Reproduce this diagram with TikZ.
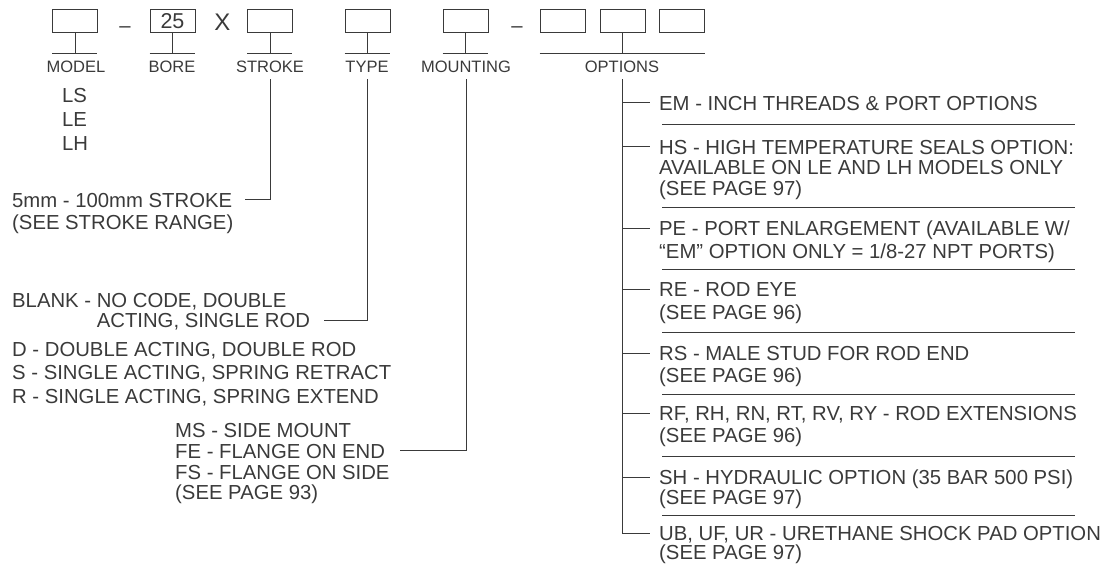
\documentclass[tikz,border=0pt]{standalone}
\usepackage{fontspec}
\setmainfont{Liberation Sans}
\usetikzlibrary{positioning, calc}
\definecolor{ink}{HTML}{3A3A3A}
\tikzset{
  box/.style={draw=ink, line width=1pt, minimum width=45pt, minimum height=23pt,
              inner sep=0pt, text=ink, font=\fontsize{21.5}{22}\selectfont},
  lbl/.style={text=ink, font=\fontsize{16.5}{17}\selectfont, inner xsep=0pt,
              inner ysep=6pt, text height=12pt, text depth=0pt},
  txt/.style={text=ink, font=\fontsize{20.3}{21}\selectfont, anchor=west,
              inner sep=0pt, text height=14.5pt, text depth=0pt},
  nxt/.style={below=#1, anchor=north west},
  ln/.style={draw=ink, line width=1pt},
}

\begin{document}
\begin{tikzpicture}[x=1pt, y=-1pt]
\useasboundingbox (0,0) rectangle (1120,567);

\node[box] (model)  at (75,21.5)    {};
\node[box] (bore)   at (172.5,21.5) {25};
\node[box] (stroke) at (270,21.5)   {};
\node[box] (type)   at (367.5,21.5) {};
\node[box] (mount)  at (465.5,21.5) {};
\node[box] (optA)   at (562.5,21.5) {};
\node[box] (optB)   at (622.5,21.5) {};
\node[box] (optC)   at (681.5,21.5) {};

\node[txt, anchor=center] (dashA) at (125,25) {--};
\node[txt, anchor=center, font=\fontsize{24}{24}\selectfont] (times) at (222.5,23.5) {X};
\node[txt, anchor=center] (dashB) at (517,25) {--};

\draw[ln] (model.south)  -- ++(0,20) (model.south west)  ++(0,20) -- ++(45,0);
\draw[ln] (bore.south)   -- ++(0,20) (bore.south west)   ++(0,20) -- ++(45,0);
\draw[ln] (stroke.south) -- ++(0,20) (stroke.south west) ++(0,20) -- ++(45,0);
\draw[ln] (type.south)   -- ++(0,20) (type.south west)   ++(0,20) -- ++(45,0);
\draw[ln] (mount.south)  -- ++(0,20) (mount.south west)  ++(0,20) -- ++(45,0);
\draw[ln] (optB.south)   -- ++(0,20) (optA.south west)   ++(0,20) -- ($(optC.south east)+(0,20)$);

\node[lbl] (lmodel)  at (76,67)  {MODEL};
\node[lbl] (lbore)   at (172,67) {BORE};
\node[lbl] (lstroke) at (270,67) {STROKE};
\node[lbl] (ltype)   at (367,67) {TYPE};
\node[lbl] (lmount)  at (466,67) {MOUNTING};
\node[lbl] (lopt)    at (622,67) {OPTIONS};

\node[txt] (ls) at (62,95) {LS};
\node[txt, nxt=9pt of ls.south west] (le) {LE};
\node[txt, nxt=9pt of le.south west] (lh) {LH};

\node[txt] (s1) at (12,200) {5mm - 100mm STROKE};
\node[txt, nxt=7.5pt of s1.south west] (s2) {(SEE STROKE RANGE)};
\draw[ln] (lstroke.south) |- ([xshift=13pt]s1.east);

\node[txt] (t1) at (12,300) {BLANK - NO CODE, DOUBLE};
\node[txt, nxt=5.5pt of t1.south west] (t2) {\phantom{BLANK - }ACTING, SINGLE ROD};
\node[txt, nxt=14pt of t2.south west] (t3) {D - DOUBLE ACTING, DOUBLE ROD};
\node[txt, nxt=8.5pt of t3.south west] (t4) {S - SINGLE ACTING, SPRING RETRACT};
\node[txt, nxt=8.5pt of t4.south west] (t5) {R - SINGLE ACTING, SPRING EXTEND};
\draw[ln] (ltype.south) |- ([xshift=14pt]t2.east);

\node[txt] (m1) at (175,430) {MS - SIDE MOUNT};
\node[txt, nxt=6pt of m1.south west] (m2) {FE - FLANGE ON END};
\node[txt, nxt=6pt of m2.south west] (m3) {FS - FLANGE ON SIDE};
\node[txt, nxt=6pt of m3.south west] (m4) {(SEE PAGE 93)};
\draw[ln] (lmount.south) |- ([xshift=15pt]m2.east);

\node[txt] (em) at (659,103) {EM - INCH THREADS \& PORT OPTIONS};
\node[txt] (hs) at (659,147) {HS - HIGH TEMPERATURE SEALS OPTION:};
\node[txt, nxt=5.5pt of hs.south west] (hsB) {AVAILABLE ON LE AND LH MODELS ONLY};
\node[txt, nxt=5.5pt of hsB.south west] (hsC) {(SEE PAGE 97)};
\node[txt] (pe) at (659,228) {PE - PORT ENLARGEMENT (AVAILABLE W/};
\node[txt, nxt=8pt of pe.south west] (peB) {“EM” OPTION ONLY = 1/8-27 NPT PORTS)};
\node[txt] (re) at (659,289) {RE - ROD EYE};
\node[txt, nxt=8pt of re.south west] (reB) {(SEE PAGE 96)};
\node[txt] (rs) at (659,353) {RS - MALE STUD FOR ROD END};
\node[txt, nxt=7.5pt of rs.south west] (rsB) {(SEE PAGE 96)};
\node[txt] (rf) at (659,413) {RF, RH, RN, RT, RV, RY - ROD EXTENSIONS};
\node[txt, nxt=7.5pt of rf.south west] (rfB) {(SEE PAGE 96)};
\node[txt] (sh) at (659,477) {SH - HYDRAULIC OPTION (35 BAR 500 PSI)};
\node[txt, nxt=5.5pt of sh.south west] (shB) {(SEE PAGE 97)};
\node[txt] (ub) at (659,533) {UB, UF, UR - URETHANE SHOCK PAD OPTION};
\node[txt, nxt=4.5pt of ub.south west] (ubB) {(SEE PAGE 97)};

\draw[ln] (lopt.south) |- ([xshift=-9pt]ub.west);
\draw[ln] (lopt.south |- em.west) -- ([xshift=-9pt]em.west);
\draw[ln] (lopt.south |- hs.west) -- ([xshift=-9pt]hs.west);
\draw[ln] (lopt.south |- pe.west) -- ([xshift=-9pt]pe.west);
\draw[ln] (lopt.south |- re.west) -- ([xshift=-9pt]re.west);
\draw[ln] (lopt.south |- rs.west) -- ([xshift=-9pt]rs.west);
\draw[ln] (lopt.south |- rf.west) -- ([xshift=-9pt]rf.west);
\draw[ln] (lopt.south |- sh.west) -- ([xshift=-9pt]sh.west);

\draw[ln] ($(em.west)!.5!(hs.west)$)   ++(3,0) -- ++(413,0);
\draw[ln] ($(hsC.west)!.5!(pe.west)$)  ++(3,0) -- ++(413,0);
\draw[ln] ($(peB.west)!.5!(re.west)$)  ++(3,0) -- ++(413,0);
\draw[ln] ($(reB.west)!.5!(rs.west)$)  ++(3,0) -- ++(413,0);
\draw[ln] ($(rsB.west)!.5!(rf.west)$)  ++(3,0) -- ++(413,0);
\draw[ln] ($(rfB.west)!.5!(sh.west)$)  ++(3,0) -- ++(413,0);
\draw[ln] ($(shB.west)!.5!(ub.west)$)  ++(3,0) -- ++(413,0);
\end{tikzpicture}
\end{document}
